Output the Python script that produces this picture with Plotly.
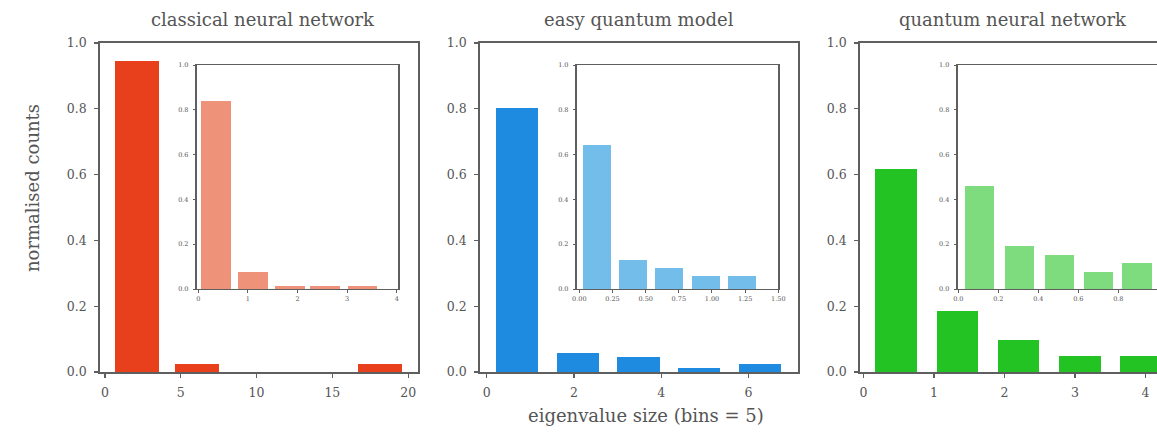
import plotly.graph_objects as go

# ---- data ----
titles = ["classical neural network", "easy quantum model", "quantum neural network"]

main1_x = [2.08, 6.1, 10.1, 14.1, 18.15]
main1_y = [0.945, 0.024, 0.0, 0.0, 0.024]
inset1_x = [0.36, 1.1, 1.85, 2.56, 3.31]
inset1_y = [0.84, 0.077, 0.015, 0.015, 0.015]

main2_x = [0.7, 2.09, 3.48, 4.87, 6.26]
main2_y = [0.803, 0.059, 0.047, 0.013, 0.024]
inset2_x = [0.135, 0.405, 0.675, 0.955, 1.225]
inset2_y = [0.643, 0.13, 0.092, 0.06, 0.06]

main3_x = [0.46, 1.335, 2.2, 3.07, 3.94]
main3_y = [0.616, 0.186, 0.097, 0.049, 0.049]
inset3_x = [0.107, 0.307, 0.505, 0.70, 0.894]
inset3_y = [0.46, 0.19, 0.152, 0.077, 0.117]

main1_ticks = [0, 5, 10, 15, 20]
main2_ticks = [0, 2, 4, 6]
main3_ticks = [0, 1, 2, 3, 4]
inset1_ticks = [0, 1, 2, 3, 4]
inset2_ticks = [0.0, 0.25, 0.5, 0.75, 1.0, 1.25, 1.5]
inset2_labels = ["0.00", "0.25", "0.50", "0.75", "1.00", "1.25", "1.50"]
inset3_ticks = [0.0, 0.2, 0.4, 0.6, 0.8, 1.0]
inset3_labels = ["0.0", "0.2", "0.4", "0.6", "0.8", "1"]
y_ticks = [0.0, 0.2, 0.4, 0.6, 0.8, 1.0]
y_labels = ["0.0", "0.2", "0.4", "0.6", "0.8", "1.0"]

# ---- style ----
W, H = 1157, 437
SERIF = "DejaVu Serif, Liberation Serif, serif"
AX = "#5f5f5f"
TXT = "#555555"
main_cols = ["#E8401C", "#1E8BE0", "#22C322"]
inset_cols = ["#EE9379", "#72BDE9", "#7EDB7E"]


def fx(px):
    return px / W


def fy(py):
    return 1 - py / H


fig = go.Figure()

main_dom = [(100, 418), (480, 797.7), (860, 1157)]
main_rng = [(-0.33, 20.65), (-0.154, 7.13), (-0.05, 4.163)]
inset_dom = [(196.7, 398.3), (576.7, 778.3), (957.5, 1157)]
inset_rng = [(-0.032, 4.03), (-0.02, 1.5), (-0.004, 0.9935)]
main_data = [(main1_x, main1_y, 2.9), (main2_x, main2_y, 0.97), (main3_x, main3_y, 0.59)]
inset_data = [(inset1_x, inset1_y, 0.6), (inset2_x, inset2_y, 0.21), (inset3_x, inset3_y, 0.147)]
main_tickv = [main1_ticks, main2_ticks, main3_ticks]
inset_tickv = [(inset1_ticks, [str(t) for t in inset1_ticks]),
               (inset2_ticks, inset2_labels),
               (inset3_ticks, inset3_labels)]

layout = dict(
    template="none",
    width=W, height=H, autosize=False,
    margin=dict(l=0, r=0, t=0, b=0, pad=0, autoexpand=False),
    paper_bgcolor="white", plot_bgcolor="white",
    showlegend=False, bargap=0,
    font=dict(family=SERIF, color=TXT),
)

for i in range(3):
    m = 2 * i + 1
    n = 2 * i + 2
    xs, ys, w = main_data[i]
    fig.add_trace(go.Bar(x=xs, y=ys, width=w, marker=dict(color=main_cols[i], line=dict(width=0)),
                         xaxis=f"x{m}", yaxis=f"y{m}"))
    xs2, ys2, w2 = inset_data[i]
    fig.add_trace(go.Bar(x=xs2, y=ys2, width=w2, marker=dict(color=inset_cols[i], line=dict(width=0)),
                         xaxis=f"x{n}", yaxis=f"y{n}"))
    mirror_y = i < 2
    common = dict(showgrid=False, zeroline=False, showline=True, linecolor=AX,
                  ticks="outside", tickcolor=AX, automargin=False, fixedrange=True)
    layout[f"xaxis{m}"] = dict(
        domain=[fx(main_dom[i][0]), fx(main_dom[i][1])], range=list(main_rng[i]),
        anchor=f"y{m}", linewidth=1.8, mirror=True, ticklen=4, tickwidth=1.2,
        ticklabelstandoff=4,
        tickvals=main_tickv[i], ticktext=[str(t) for t in main_tickv[i]],
        tickfont=dict(size=12.5, family=SERIF, color=TXT), **common)
    layout[f"yaxis{m}"] = dict(
        domain=[fy(372), fy(43)], range=[0, 1.0], anchor=f"x{m}",
        linewidth=1.8, mirror=mirror_y, ticklen=4, tickwidth=1.2,
        ticklabelstandoff=5,
        tickvals=y_ticks, ticktext=y_labels,
        tickfont=dict(size=12.5, family=SERIF, color=TXT), **common)
    tv, tt = inset_tickv[i]
    layout[f"xaxis{n}"] = dict(
        domain=[fx(inset_dom[i][0]), fx(inset_dom[i][1])], range=list(inset_rng[i]),
        anchor=f"y{n}", linewidth=1.4, mirror=True, ticklen=2.5, tickwidth=1,
        tickvals=tv, ticktext=tt,
        tickfont=dict(size=6.5, family=SERIF, color=TXT), **common)
    layout[f"yaxis{n}"] = dict(
        domain=[fy(289), fy(65)], range=[0, 1.0], anchor=f"x{n}",
        linewidth=1.4, mirror=mirror_y, ticklen=2.5, tickwidth=1,
        ticklabelstandoff=3,
        tickvals=y_ticks, ticktext=y_labels,
        tickfont=dict(size=6.5, family=SERIF, color=TXT), **common)

fig.update_layout(**layout)

# Titles and axis labels
title_centers = [263, 639, 1013]
for t, cx in zip(titles, title_centers):
    fig.add_annotation(text=t, x=fx(cx), y=fy(20), xref="paper", yref="paper",
                       showarrow=False, font=dict(size=18, family=SERIF, color=TXT),
                       xanchor="center", yanchor="middle")

fig.add_annotation(text="normalised counts", x=fx(33), y=fy(188), xref="paper", yref="paper",
                   showarrow=False, textangle=-90, font=dict(size=18, family=SERIF, color=TXT),
                   xanchor="center", yanchor="middle")
fig.add_annotation(text="eigenvalue size (bins = 5)", x=fx(646), y=fy(415), xref="paper", yref="paper",
                   showarrow=False, font=dict(size=18, family=SERIF, color=TXT),
                   xanchor="center", yanchor="middle")

fig.write_html("out.html", config={"displayModeBar": False, "staticPlot": True},
               post_script="document.body.style.margin='0';document.body.style.overflow='hidden';")
